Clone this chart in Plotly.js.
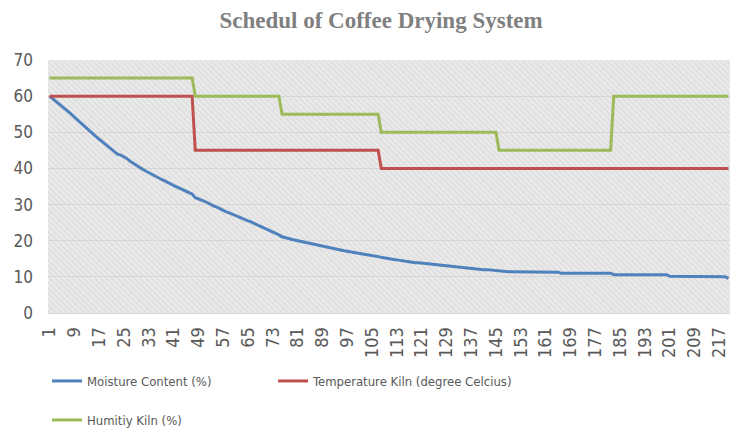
<!DOCTYPE html>
<html>
<head>
<meta charset="utf-8">
<script src="https://cdn.plot.ly/plotly-3.0.1.min.js"></script>
<style>html,body{margin:0;padding:0;background:#fff;}#chart{width:730px;height:432px;}</style>
</head>
<body>
<div id="chart"></div>
<script>
// Moisture content (%) per sample index 1..220
const moisture = [
  60.0,59.3,58.6,58.0,57.2,56.5,55.7,55.0,54.2,53.4,
  52.6,51.8,51.0,50.3,49.6,48.8,48.1,47.4,46.7,46.0,
  45.2,44.4,43.9,43.7,43.3,42.7,42.0,41.4,40.9,40.3,
  39.8,39.3,38.8,38.3,37.9,37.4,37.0,36.6,36.1,35.7,
  35.3,34.9,34.5,34.2,33.8,33.4,32.9,31.9,31.6,31.4,
  30.9,30.5,30.0,29.6,29.3,28.8,28.4,28.0,27.7,27.3,
  26.9,26.6,26.2,25.8,25.5,25.2,24.8,24.4,24.1,23.7,
  23.3,23.0,22.6,22.2,21.6,21.1,20.8,20.6,20.4,20.2,
  20.0,19.8,19.6,19.4,19.2,19.1,18.9,18.7,18.5,18.4,
  18.2,18.0,17.8,17.6,17.4,17.2,17.1,16.9,16.8,16.6,
  16.5,16.3,16.2,16.1,15.9,15.8,15.6,15.4,15.2,15.0,
  14.9,14.8,14.7,14.5,14.4,14.3,14.2,14.0,13.9,13.9,
  13.8,13.7,13.6,13.5,13.4,13.4,13.3,13.2,13.1,13.0,
  12.9,12.8,12.7,12.6,12.5,12.4,12.3,12.3,12.2,12.1,
  12.0,12.0,11.9,11.8,11.7,11.5,11.4,11.4,11.4,11.4,
  11.4,11.4,11.4,11.4,11.4,11.4,11.3,11.3,11.3,11.3,
  11.3,11.3,11.3,11.3,11.3,11.0,11.0,11.0,11.0,11.0,
  11.0,11.0,11.0,11.0,11.0,11.0,11.0,11.0,11.0,11.0,
  11.0,11.0,10.6,10.6,10.6,10.6,10.6,10.6,10.6,10.6,
  10.6,10.6,10.6,10.6,10.6,10.6,10.6,10.6,10.6,10.6,
  10.2,10.2,10.2,10.2,10.2,10.2,10.2,10.2,10.2,10.2,
  10.2,10.2,10.2,10.2,10.2,10.2,10.2,10.2,10.0,9.6
];

// Temperature Kiln (degree Celcius)
const temperature = [
  60,60,60,60,60,60,60,60,60,60,
  60,60,60,60,60,60,60,60,60,60,
  60,60,60,60,60,60,60,60,60,60,
  60,60,60,60,60,60,60,60,60,60,
  60,60,60,60,60,60,60,45,45,45,
  45,45,45,45,45,45,45,45,45,45,
  45,45,45,45,45,45,45,45,45,45,
  45,45,45,45,45,45,45,45,45,45,
  45,45,45,45,45,45,45,45,45,45,
  45,45,45,45,45,45,45,45,45,45,
  45,45,45,45,45,45,45,40,40,40,
  40,40,40,40,40,40,40,40,40,40,
  40,40,40,40,40,40,40,40,40,40,
  40,40,40,40,40,40,40,40,40,40,
  40,40,40,40,40,40,40,40,40,40,
  40,40,40,40,40,40,40,40,40,40,
  40,40,40,40,40,40,40,40,40,40,
  40,40,40,40,40,40,40,40,40,40,
  40,40,40,40,40,40,40,40,40,40,
  40,40,40,40,40,40,40,40,40,40,
  40,40,40,40,40,40,40,40,40,40,
  40,40,40,40,40,40,40,40,40,40
];

// Humitiy Kiln (%)
const humidity = [
  65,65,65,65,65,65,65,65,65,65,
  65,65,65,65,65,65,65,65,65,65,
  65,65,65,65,65,65,65,65,65,65,
  65,65,65,65,65,65,65,65,65,65,
  65,65,65,65,65,65,65,60,60,60,
  60,60,60,60,60,60,60,60,60,60,
  60,60,60,60,60,60,60,60,60,60,
  60,60,60,60,60,55,55,55,55,55,
  55,55,55,55,55,55,55,55,55,55,
  55,55,55,55,55,55,55,55,55,55,
  55,55,55,55,55,55,55,50,50,50,
  50,50,50,50,50,50,50,50,50,50,
  50,50,50,50,50,50,50,50,50,50,
  50,50,50,50,50,50,50,50,50,50,
  50,50,50,50,50,45,45,45,45,45,
  45,45,45,45,45,45,45,45,45,45,
  45,45,45,45,45,45,45,45,45,45,
  45,45,45,45,45,45,45,45,45,45,
  45,45,60,60,60,60,60,60,60,60,
  60,60,60,60,60,60,60,60,60,60,
  60,60,60,60,60,60,60,60,60,60,
  60,60,60,60,60,60,60,60,60,60
];

const seriesNames = ['Moisture Content (%)', 'Temperature Kiln (degree Celcius)', 'Humitiy Kiln (%)'];
const tickLabels = ['1','9','17','25','33','41','49','57','65','73','81','89','97','105','113','121','129','137','145','153','161','169','177','185','193','201','209','217'];
const yTicks = [0,10,20,30,40,50,60,70];

// category labels = sample numbers
const categories = moisture.map((_, k) => String(k + 1));

const uiFont = 'DejaVu Sans Condensed, Lato, sans-serif';

const hatchSvg = "<svg xmlns='http://www.w3.org/2000/svg' width='682' height='253'>" +
  "<defs><pattern id='p' width='4' height='4' patternUnits='userSpaceOnUse' patternTransform='rotate(-45)'>" +
  "<rect width='4' height='4' fill='#e0e0e0'/><rect width='1.6' height='4' fill='#ededed'/></pattern></defs>" +
  "<rect width='682' height='253' fill='url(#p)'/></svg>";
const hatch = 'data:image/svg+xml;charset=utf-8,' + encodeURIComponent(hatchSvg);

const traces = [
  {x: categories, y: moisture, name: seriesNames[0], type: 'scatter', mode: 'lines',
   line: {color: '#4F81BD', width: 3}, legend: 'legend'},
  {x: categories, y: temperature, name: seriesNames[1], type: 'scatter', mode: 'lines',
   line: {color: '#C0504D', width: 3}, legend: 'legend3'},
  {x: categories, y: humidity, name: seriesNames[2], type: 'scatter', mode: 'lines',
   line: {color: '#9BBB59', width: 3}, legend: 'legend2'}
];

function legendAt(xpx, ypx) {
  return {
    orientation: 'h', xref: 'container', yref: 'container',
    x: xpx / 730, xanchor: 'left', y: 1 - ypx / 432, yanchor: 'middle',
    font: {family: uiFont, size: 13, color: '#595959'},
    itemwidth: 30, bgcolor: 'rgba(0,0,0,0)'
  };
}

const layout = {
  width: 730, height: 432,
  margin: {l: 48, r: 0, t: 60, b: 119},
  paper_bgcolor: '#ffffff',
  plot_bgcolor: '#e5e5e5',
  title: {
    text: 'Schedul of Coffee Drying System',
    font: {family: 'Liberation Serif, Times New Roman, serif', size: 23, color: '#7f7f7f', weight: 'bold'},
    x: 0.522, xanchor: 'center', xref: 'container',
    y: 0.953, yanchor: 'middle', yref: 'container'
  },
  xaxis: {
    type: 'category',
    tickmode: 'array', tickvals: tickLabels, ticktext: tickLabels,
    tickangle: -90,
    tickfont: {family: uiFont, size: 18, color: '#595959'},
    showgrid: false, zeroline: false,
    showline: true, linecolor: '#d9d9d9', linewidth: 1,
    ticks: '', ticklabelstandoff: 6,
    range: [-0.5, 219.5]
  },
  yaxis: {
    range: [0, 70],
    tickmode: 'array', tickvals: yTicks,
    tickfont: {family: uiFont, size: 17, color: '#595959'},
    showgrid: true, gridcolor: '#d6d6d6', gridwidth: 1,
    zeroline: false, showline: false, ticks: '',
    ticklabelstandoff: 14
  },
  images: [{
    source: hatch, xref: 'paper', yref: 'paper', x: 0, y: 1, sizex: 1, sizey: 1,
    xanchor: 'left', yanchor: 'top', sizing: 'stretch', layer: 'below'
  }],
  showlegend: true,
  legend: legendAt(47, 381),
  legend3: legendAt(273, 381),
  legend2: legendAt(47, 420)
};

Plotly.newPlot('chart', traces, layout, {displayModeBar: false, staticPlot: true});
</script>
</body>
</html>
